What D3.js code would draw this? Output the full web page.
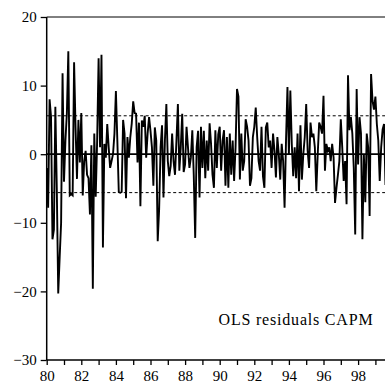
<!DOCTYPE html>
<html><head><meta charset="utf-8">
<script src="https://cdn.jsdelivr.net/npm/d3@7/dist/d3.min.js"></script>
<style>body{margin:0;background:#fff}svg{display:block}text{font-family:"Liberation Serif",serif}</style>
</head><body><div id="c"></div>
<script>
const startYear = 80;
const yearTicks = [80,81,82,83,84,85,86,87,88,89,90,91,92,93,94,95,96,97,98,99];
const yearLabels = ["80","82","84","86","88","90","92","94","96","98"];
const yTicks = [20,10,0,-10,-20,-30];
const bandValue = 5.6;
const chartLabel = "OLS residuals CAPM";
const residuals = [
-2,-7.8,8,5.5,-12.4,-11,6.9,-5,-20.3,-15,-10,11.8,-4,2,6,15,-6,-5.8,-6,13.4,
4,-3.6,5,-1.2,6,-6,-1,0.5,-3,-3.5,-8.8,1.3,-19.6,3,-6.2,2,14,1,14.5,-13.6,
1.5,-0.5,4.4,1,-2,-1,0,3,9.2,2,-5.5,-5.6,-5.5,5,3,-6.4,2.5,-0.5,2.5,4.5,
7.7,6,5.9,-1.2,4.6,-7.6,4.9,4,5.6,-0.5,3,5.4,3.4,1,-4.6,3.9,2,-12.7,-8,1,
4.2,-6.3,2,7.3,-1,-3.2,-1.7,3,-1,-3,2,7.3,-2.4,1,5.9,-2.6,-1.5,4,1,-2,
-0.5,3.5,-3,-12.2,1,3.4,-6.3,4,-2,3.4,-3.5,2,-2.4,4.5,1.5,-3,-4.9,3.5,-2,2.9,
4,-2.4,2,3.5,-4.6,2.5,-4.9,3,-3,2,-3.9,1,9.5,8.4,-3.7,3,-2.4,-1,5.1,4,
2,-4.6,-3.5,2.5,4,6.8,2.5,-1,-2.4,4,-3.2,-4.9,3.9,4.6,1,2,-2,3,0.5,-3.4,
2.5,0,-3.7,1.5,-1,-7.8,2,9.8,0,9.3,1.5,-3.2,1,-3.5,3,-5.4,4.2,-3.7,0,2.5,
7.3,0.5,-2,4.6,2.5,3,1,-5.4,0,4.6,4,3,8.5,-2.4,1.5,0.5,1,-1,1.5,-0.5,
-7.1,-4.9,-3,-1,5.1,1,-3.9,-1,-7.3,11.5,3.5,5.4,3,-2,-11.7,9.5,-1.5,5.4,3,-12.4,
0,-7,3,1,-9,11.7,7.8,6.5,8.4,4.4,2,-3.9,1,3.6,4.4,-4.5,2,-1,3,0
];

const W = 385, H = 386;
const x0 = 46.7, pxPerYear = 17.3;
const yTop = 17, yBot = 360;
const svg = d3.select("#c").append("svg").attr("width", W).attr("height", H);

const x = d3.scaleLinear().domain([startYear, startYear + 20]).range([x0, x0 + 20 * pxPerYear]);
const y = d3.scaleLinear().domain([-30, 20]).range([yBot, yTop]);

svg.append("defs").append("clipPath").attr("id","clip")
  .append("rect").attr("x", x0).attr("y", yTop).attr("width", W - x0).attr("height", yBot - yTop);

const g = svg.append("g").attr("clip-path","url(#clip)");

g.append("line").attr("x1", x0).attr("x2", W).attr("y1", y(0)).attr("y2", y(0))
  .attr("stroke","#000").attr("stroke-width",1.8);
[bandValue, -bandValue].forEach(v => {
  g.append("line").attr("x1", x0).attr("x2", W).attr("y1", y(v)).attr("y2", y(v))
    .attr("stroke","#000").attr("stroke-width",1).attr("stroke-dasharray","3,2.5");
});

const line = d3.line().x((d,i) => x(startYear + i/12)).y(d => y(d));
g.append("path").datum(residuals).attr("d", line)
  .attr("fill","none").attr("stroke","#000").attr("stroke-width",1.9).attr("stroke-linejoin","miter");

svg.append("line").attr("x1", x0).attr("x2", x0).attr("y1", yTop).attr("y2", yBot).attr("stroke","#000").attr("stroke-width",1.5);
svg.append("line").attr("x1", x0).attr("x2", W).attr("y1", yTop).attr("y2", yTop).attr("stroke","#000").attr("stroke-width",1);

const yAxis = d3.axisLeft(y).tickValues(yTicks).tickSize(6).tickPadding(4)
  .tickFormat(d => d < 0 ? "\u2212" + Math.abs(d) : String(d));
const ya = svg.append("g").attr("transform", `translate(${x0},0)`).call(yAxis);
ya.select(".domain").remove();
ya.selectAll("line").attr("stroke","#000").attr("stroke-width",1.3);
ya.selectAll("text").attr("font-size",15).attr("fill","#000").attr("font-family","Liberation Serif");

const xAxis = d3.axisBottom(x).tickValues(yearTicks).tickSize(5).tickPadding(5)
  .tickFormat(d => yearLabels.includes(String(d)) ? String(d) : "");
const xa = svg.append("g").attr("transform", `translate(0,${yBot})`).call(xAxis);
xa.select(".domain").attr("d", `M${x0},0H${W}`).attr("stroke","#000").attr("stroke-width",1.5);
xa.selectAll("line").attr("stroke","#000").attr("stroke-width",1.3);
xa.selectAll("text").attr("font-size",15).attr("fill","#000").attr("font-family","Liberation Serif");

svg.append("text").attr("x", 296).attr("y", 325).attr("text-anchor","middle")
  .attr("font-size",16).attr("letter-spacing",0.8).text(chartLabel);
</script></body></html>
